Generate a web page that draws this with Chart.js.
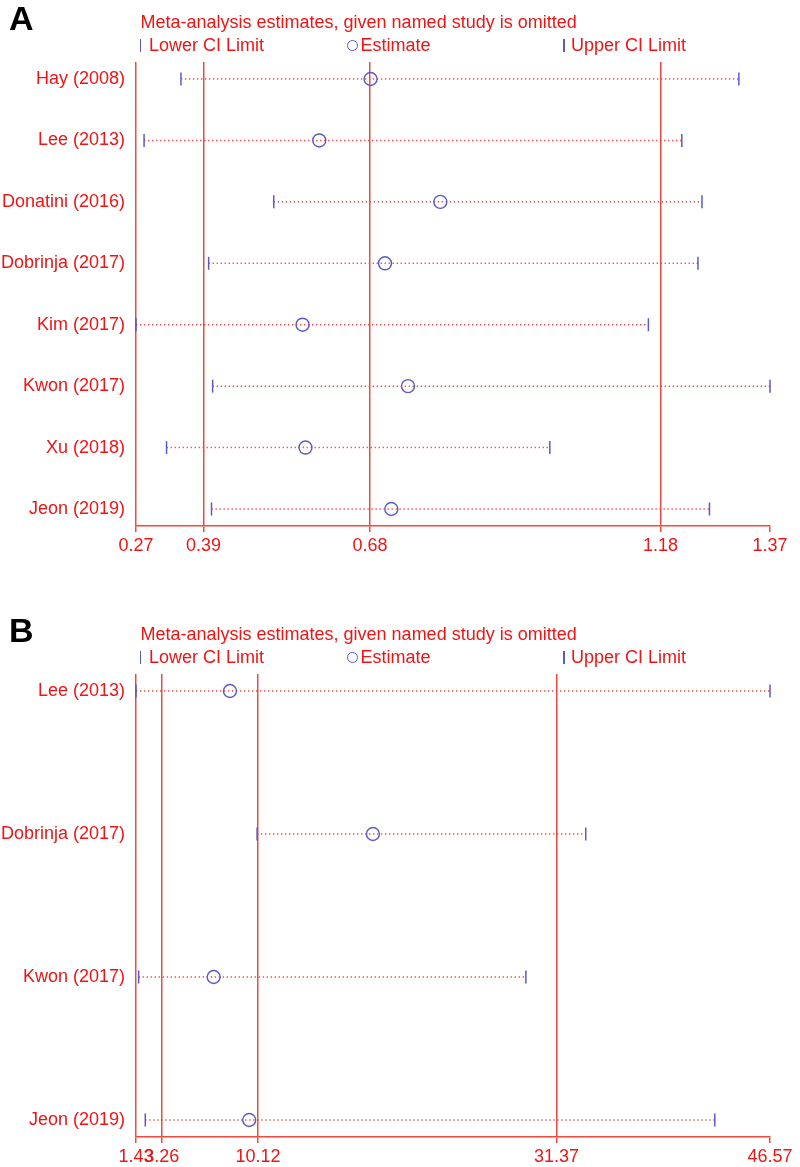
<!DOCTYPE html>
<html>
<head>
<meta charset="utf-8">
<script src="https://cdn.jsdelivr.net/npm/chart.js@4"></script>
<style>
body{margin:0;background:#fff;width:800px;height:1167px;position:relative;overflow:hidden;font-family:"Liberation Sans",Arial,sans-serif}
canvas{position:absolute;left:0}
.t{position:absolute;font-size:18px;line-height:18px;color:#f01414;white-space:nowrap}
.lt{position:absolute;font-weight:bold;font-size:34px;line-height:34px;color:#000}
.bar{position:absolute;width:1.5px;height:13px;background:#5a5ac8}
.ring{position:absolute;width:11px;height:11px;box-sizing:border-box;border:1.3px solid #5a5ac8;border-radius:50%}
</style>
</head>
<body>
<canvas id="chartA" width="800" height="565" style="top:0"></canvas>
<canvas id="chartB" width="800" height="602" style="top:565px"></canvas>
<script>
// panel A
const studiesA = ["Hay (2008)","Lee (2013)","Donatini (2016)","Dobrinja (2017)","Kim (2017)","Kwon (2017)","Xu (2018)","Jeon (2019)"];
const lowerA = [0.348,0.284,0.509,0.396,0.270,0.403,0.323,0.401];
const estA   = [0.677,0.588,0.798,0.702,0.559,0.742,0.564,0.713];
const upperA = [1.316,1.217,1.252,1.245,1.159,1.370,0.988,1.265];
const ticksA = [0.27,0.387,0.676,1.18,1.37];
const tickLabelsA = ["0.27","0.39","0.68","1.18","1.37"];

// panel B
const studiesB = ["Lee (2013)","Dobrinja (2017)","Kwon (2017)","Jeon (2019)"];
const lowerB = [1.43,10.05,1.62,2.09];
const estB   = [8.12,18.30,6.96,9.49];
const upperB = [46.57,33.45,29.19,42.64];
const ticksB = [1.43,3.26,10.12,31.37,46.57];
const tickLabelsB = ["1.43","3.26","10.12","31.37","46.57"];

const titleText = "Meta-analysis estimates, given named study is omitted";
const legendText = ["Lower CI Limit","Estimate","Upper CI Limit"];

const blue = "#5a5ac8", lineRed = "#f5483c", dotRed = "#ff4040", txtRed = "#f01414";
const fam = "'Liberation Sans', Arial, sans-serif";

function el(cls, txt, x, y){
    let d = document.createElement("div");
    d.className = cls; d.style.left = x+"px"; d.style.top = y+"px";
    if(txt) d.textContent = txt;
    document.body.appendChild(d);
}

function header(dy, letter){
    el("lt", letter, 9, dy+1.2);
    el("t", titleText, 140.5, dy+13);
    el("bar", "", 139.5, dy+39);
    el("t", legendText[0], 149, dy+36.4);
    el("ring", "", 346.5, dy+40);
    el("t", legendText[1], 360.5, dy+36.4);
    el("bar", "", 563, dy+39);
    el("t", legendText[2], 571, dy+36.4);
}

function build(id, studies, lower, est, upper, tickVals, tickLabels, yMin, yMax, padTop, axisH){
    const xMax = tickVals[tickVals.length-1];
    const rows = studies.map((s,i)=>i+1);
    const mark = (vals, style, r, bw, rot)=>({
        type:"scatter", data: rows.map(k=>({x:vals[k-1], y:k})),
        pointStyle:style, pointRadius:r, pointHoverRadius:r, pointRotation:rot,
        pointBorderColor:blue, pointBorderWidth:bw, pointBackgroundColor:"rgba(0,0,0,0)",
        clip:false, order:0
    });
    let ds = [
        mark(est, "circle", 6.5, 1.4, 0),
        mark(lower, "line", 6.5, 1.5, 90),
        mark(upper, "line", 6.5, 1.5, 90)
    ];
    rows.forEach(k=>ds.push({
        type:"line", data:[{x:lower[k-1], y:k},{x:upper[k-1], y:k}],
        borderColor:dotRed, borderWidth:1.5, borderDash:[1.3,2.7],
        pointRadius:0, pointHoverRadius:0, clip:false, order:1
    }));
    return new Chart(document.getElementById(id), {
        type:"scatter",
        data:{datasets:ds},
        options:{
            responsive:false, animation:false, events:[], devicePixelRatio:1,
            layout:{padding:{top:padTop, right:30, bottom:0, left:0}},
            plugins:{legend:{display:false}, tooltip:{enabled:false}},
            scales:{
                x:{type:"linear", min:tickVals[0], max:xMax,
                    afterBuildTicks:s=>{s.ticks = tickVals.map(v=>({value:v}));},
                    afterFit:s=>{s.height = axisH;},
                    ticks:{autoSkip:false, maxRotation:0, minRotation:0, color:txtRed, padding:3,
                        font:{family:fam, size:18}, callback:(v,i)=>tickLabels[i]},
                    grid:{color:c=>(c.tick && c.tick.value===xMax) ? "rgba(0,0,0,0)" : lineRed,
                        tickColor:lineRed, lineWidth:1.5, tickLength:6},
                    border:{display:true, color:lineRed, width:1.5}
                },
                y:{type:"linear", reverse:true, min:yMin, max:yMax,
                    afterBuildTicks:s=>{s.ticks = rows.map(k=>({value:k}));},
                    afterFit:s=>{s.width = 136;},
                    ticks:{autoSkip:false, color:txtRed, padding:11,
                        font:{family:fam, size:18}, callback:(v,i)=>studies[i]},
                    grid:{display:false, drawTicks:false}, border:{display:false}
                }
            }
        }
    });
}

header(0, "A");
header(611.7, "B");
build("chartA", studiesA, lowerA, estA, upperA, ticksA, tickLabelsA, 0.723, 8.277, 62, 39);
build("chartB", studiesB, lowerB, estB, upperB, ticksB, tickLabelsB, 0.881, 4.119, 109, 30);
</script>
</body>
</html>
